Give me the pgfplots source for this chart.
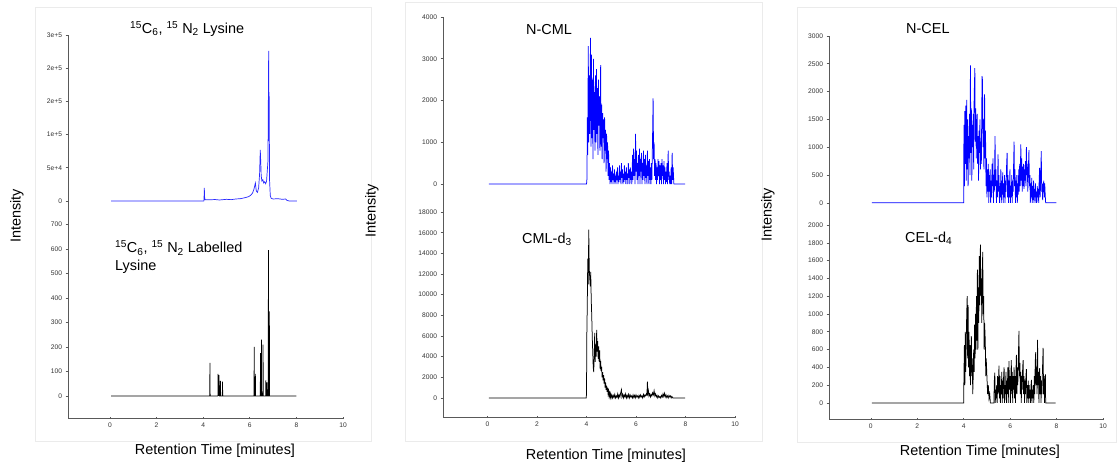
\documentclass[border=0pt]{standalone}
\usepackage{fontspec}
\setmainfont{Liberation Sans}
\usepackage{pgfplots}
\pgfplotsset{compat=1.18}
\pgfplotsset{
 chrom/.style={
  scale only axis, anchor=south west,
  xmin=-1.8, xmax=10,
  axis y line=left,
  axis line style={-, draw=black!65, line width=0.8bp},
  tick style={draw=black!65, line width=0.6bp},
  tick align=outside, major tick length=2.5bp,
  tick label style={font=\fontsize{6.7}{7}\selectfont, text=black!80},
  /pgf/number format/assume math mode=true,
  /pgf/number format/1000 sep={},
  scaled y ticks=false,
 },
 topax/.style={chrom, axis x line=none},
 botax/.style={chrom, axis x line=bottom, xtick={0,2,4,6,8,10},
   x axis line style={-}, y axis line style={-}},
}
\newcommand{\bigtxt}{\fontsize{14.5}{17}\selectfont}
\begin{document}
\begin{tikzpicture}[x=1bp,y=1bp]
\path[fill=white] (0,0) rectangle (1117,467);
\draw[black!8, line width=0.6bp] (35,26) rectangle (371,460);
\draw[black!8, line width=0.6bp] (405,26) rectangle (762,465);
\draw[black!8, line width=0.6bp] (797,25) rectangle (1116.5,460);

% ---------------- Panel 1 upper: Lysine
\begin{axis}[topax, at={(68bp,255bp)}, width=275bp, height=177bp,
  ymin=-16570, ymax=250000,
  ytick={0,50000,100000,150000,200000,250000},
  yticklabels={0,5e+4,1e+5,2e+5,2e+5,3e+5}]
\addplot[blue!85!white, line width=0.7bp] table {
x y
0.05 0
4.03 0
4.04 8000
4.05 19600
4.06 6000
4.08 2000
4.30 1800
4.50 2200
4.70 1500
5.00 2500
5.20 2000
5.40 3000
5.60 3500
5.80 5000
5.95 6500
6.05 9000
6.12 12000
6.18 18000
6.24 27000
6.28 15000
6.33 13000
6.38 20000
6.42 40000
6.45 77000
6.47 60000
6.49 38000
6.52 30000
6.56 32000
6.60 27000
6.64 29000
6.68 26000
6.72 30000
6.75 45000
6.78 60000
6.81 226000
6.82 90000
6.83 164000
6.85 30000
6.88 8000
6.92 4000
7.00 3000
7.20 3500
7.40 2500
7.54 3000
7.60 800
7.70 0
8.02 0
};
\end{axis}

% ---------------- Panel 1 lower: Labelled Lysine
\begin{axis}[botax, at={(68bp,49bp)}, width=275bp, height=206bp,
  ymin=-90, ymax=751, ytick={0,100,...,700}]
\addplot[black, line width=0.7bp] table {
x y
0.05 0
4.28 0
4.29 135
4.30 0
4.63 0
4.64 90
4.66 0
4.68 85
4.70 0
4.73 0
4.74 62
4.75 0
4.82 0
4.83 58
4.84 0
6.18 0
6.19 200
6.20 0
6.23 0
6.24 90
6.25 0
6.45 0
6.46 175
6.47 0
6.49 0
6.50 230
6.51 0
6.56 0
6.57 210
6.58 0
6.68 0
6.69 65
6.70 0
6.73 0
6.74 55
6.75 0
6.79 0
6.80 595
6.81 0
6.83 0
6.84 345
6.85 0
8.00 0
};
\end{axis}

% ---------------- Panel 2 upper: N-CML
\begin{axis}[topax, at={(443bp,267bp)}, width=292bp, height=183bp,
  ymin=-380, ymax=4000, ytick={0,1000,...,4000}]
\addplot[blue, line width=0.75bp] table {
x y
0.05 0
4.00 0
4.02 150
4.03 1600
4.05 700
4.07 3300
4.09 1000
4.11 2600
4.13 1200
4.16 3500
4.18 900
4.20 3100
4.22 1100
4.24 2500
4.26 600
4.28 3000
4.30 1300
4.32 2200
4.34 800
4.36 2600
4.38 1000
4.40 2750
4.42 1200
4.44 2300
4.46 700
4.48 2500
4.50 1400
4.52 2100
4.54 800
4.57 2850
4.59 900
4.61 1900
4.63 600
4.65 1700
4.67 1100
4.69 1550
4.71 500
4.73 1600
4.75 800
4.77 1300
4.79 300
4.81 1200
4.83 600
4.85 1000
4.87 200
4.89 800
4.91 100
4.93 500
4.95 0
4.97 400
4.99 50
5.01 300
5.03 0
5.05 450
5.07 100
5.09 250
5.11 0
5.13 350
5.15 50
5.17 200
5.19 0
5.21 300
5.23 100
5.25 400
5.27 0
5.29 200
5.31 50
5.33 450
5.35 100
5.37 300
5.39 0
5.41 500
5.43 150
5.45 350
5.47 0
5.49 250
5.51 50
5.53 450
5.55 100
5.57 300
5.59 0
5.61 400
5.63 100
5.65 250
5.67 0
5.69 500
5.71 150
5.73 350
5.75 0
5.77 400
5.79 100
5.81 300
5.83 0
5.86 700
5.88 100
5.90 850
5.92 200
5.94 600
5.96 0
5.98 1200
6.00 300
6.02 800
6.04 100
6.06 500
6.08 0
6.10 700
6.12 200
6.14 850
6.16 0
6.18 600
6.20 300
6.22 750
6.24 0
6.26 500
6.28 100
6.30 800
6.32 200
6.34 600
6.36 0
6.38 700
6.40 150
6.42 450
6.44 0
6.46 800
6.48 200
6.50 550
6.52 0
6.54 600
6.56 100
6.58 400
6.60 0
6.62 500
6.64 100
6.67 1200
6.69 2050
6.71 600
6.73 1000
6.75 200
6.77 600
6.79 100
6.81 500
6.83 0
6.85 400
6.87 100
6.89 600
6.91 200
6.93 550
6.95 0
6.97 450
6.99 100
7.01 500
7.03 0
7.05 600
7.07 200
7.09 450
7.11 0
7.13 550
7.15 100
7.17 400
7.19 0
7.21 300
7.23 50
7.25 500
7.27 0
7.30 800
7.32 100
7.34 300
7.36 0
7.38 200
7.40 0
7.42 400
7.44 0
7.46 750
7.48 100
7.50 400
7.53 0
7.98 0
};
\end{axis}

% ---------------- Panel 2 lower: CML-d3
\begin{axis}[botax, at={(443bp,50bp)}, width=292bp, height=217bp,
  ymin=-1840, ymax=19170, ytick={0,2000,...,18000}]
\addplot[black, line width=0.75bp] table {
x y
0.05 0
3.99 0
4.00 700
4.01 5800
4.03 9000
4.05 13500
4.07 11000
4.09 16300
4.11 12500
4.13 11600
4.15 10800
4.17 12200
4.19 9500
4.21 8000
4.23 6000
4.25 4500
4.27 3000
4.29 2500
4.31 4000
4.33 6300
4.35 3500
4.37 5200
4.39 4000
4.41 6600
4.43 4500
4.45 5500
4.47 3800
4.49 5000
4.51 3500
4.53 4600
4.55 2800
4.57 3600
4.59 2600
4.61 3000
4.63 2000
4.65 2500
4.67 1700
4.69 2200
4.71 1400
4.73 1900
4.75 1000
4.77 1500
4.79 800
4.81 1200
4.83 600
4.85 1000
4.87 400
4.89 700
4.91 200
4.93 500
4.95 100
4.97 400
4.99 0
5.02 300
5.05 0
5.08 250
5.11 50
5.14 350
5.17 0
5.20 200
5.23 50
5.26 400
5.29 0
5.32 300
5.35 100
5.38 500
5.41 800
5.43 100
5.46 350
5.49 0
5.52 300
5.55 100
5.58 400
5.61 0
5.64 250
5.67 50
5.70 350
5.73 0
5.76 300
5.79 100
5.82 200
5.85 0
5.88 300
5.91 50
5.94 250
5.97 0
6.00 300
6.03 100
6.06 200
6.09 0
6.12 250
6.15 50
6.18 300
6.21 100
6.24 200
6.27 0
6.30 350
6.33 100
6.36 300
6.39 200
6.42 400
6.44 300
6.46 1580
6.48 500
6.50 700
6.52 200
6.55 400
6.58 100
6.61 350
6.64 200
6.67 500
6.70 300
6.73 700
6.76 200
6.79 400
6.82 100
6.85 250
6.88 0
6.91 200
6.94 50
6.97 150
7.00 0
7.03 250
7.06 100
7.09 400
7.12 150
7.15 450
7.18 100
7.21 300
7.24 50
7.27 200
7.30 0
7.33 250
7.36 100
7.39 200
7.42 0
7.45 150
7.49 0
7.98 0
};
\end{axis}

% ---------------- Panel 3 upper: N-CEL
\begin{axis}[topax, at={(829bp,253bp)}, width=274bp, height=178bp,
  ymin=-200, ymax=3000, ytick={0,500,...,3000}]
\addplot[blue, line width=0.75bp] table {
x y
0.05 0
4.00 0
4.01 1400
4.03 300
4.05 1650
4.07 700
4.09 1750
4.11 400
4.13 1850
4.15 600
4.17 1500
4.19 300
4.21 1200
4.23 800
4.25 1600
4.27 500
4.29 2470
4.31 900
4.33 1700
4.35 400
4.37 1400
4.39 1000
4.41 1600
4.43 600
4.45 1900
4.48 2420
4.50 1100
4.52 1700
4.54 800
4.56 1400
4.58 1600
4.60 700
4.62 1200
4.64 400
4.66 1300
4.68 900
4.70 1500
4.72 600
4.74 1100
4.76 700
4.79 2280
4.81 2200
4.83 1000
4.85 1500
4.87 600
4.90 1950
4.92 800
4.94 1300
4.96 300
4.98 800
5.00 100
5.02 600
5.04 200
5.06 700
5.08 0
5.10 500
5.12 200
5.14 600
5.16 0
5.18 400
5.20 100
5.22 700
5.24 300
5.26 800
5.28 0
5.30 500
5.32 200
5.35 1200
5.37 300
5.39 600
5.41 0
5.43 400
5.45 100
5.48 870
5.50 200
5.52 500
5.54 0
5.56 300
5.58 100
5.60 600
5.62 0
5.64 400
5.66 150
5.68 550
5.70 0
5.72 350
5.74 100
5.76 500
5.78 0
5.80 400
5.82 200
5.85 700
5.87 900
5.89 100
5.91 500
5.93 0
5.95 400
5.97 100
5.99 600
6.01 0
6.03 300
6.05 100
6.07 500
6.09 0
6.11 400
6.13 200
6.15 700
6.17 1100
6.19 300
6.21 600
6.23 0
6.25 400
6.27 100
6.29 500
6.31 0
6.33 350
6.35 150
6.37 600
6.39 200
6.41 700
6.43 300
6.46 1050
6.48 400
6.50 800
6.52 200
6.54 650
6.56 300
6.58 700
6.60 250
6.62 600
6.64 400
6.66 750
6.68 300
6.70 1000
6.72 500
6.74 700
6.76 200
6.78 550
6.81 950
6.83 300
6.85 500
6.87 0
6.89 350
6.91 100
6.93 450
6.95 0
6.97 300
6.99 50
7.01 400
7.03 0
7.05 250
7.07 100
7.09 350
7.11 0
7.13 200
7.15 0
7.17 300
7.19 100
7.21 250
7.23 0
7.25 400
7.27 630
7.29 100
7.31 300
7.34 930
7.36 200
7.38 350
7.40 50
7.42 300
7.45 400
7.47 100
7.49 350
7.51 150
7.53 0
7.99 0
};
\end{axis}

% ---------------- Panel 3 lower: CEL-d4
\begin{axis}[botax, at={(829bp,48bp)}, width=274bp, height=205bp,
  ymin=-181, ymax=2125, ytick={0,200,...,2000}]
\addplot[black, line width=0.75bp] table {
x y
0.05 0
4.00 0
4.01 300
4.03 650
4.05 200
4.07 800
4.09 350
4.11 700
4.13 1000
4.15 1200
4.17 500
4.19 1100
4.21 400
4.23 800
4.25 300
4.27 650
4.29 200
4.31 550
4.33 750
4.35 300
4.37 500
4.39 100
4.41 300
4.43 600
4.45 350
4.47 880
4.49 500
4.51 1000
4.53 600
4.55 1200
4.57 700
4.59 1500
4.61 600
4.63 1300
4.65 900
4.67 1650
4.69 1100
4.72 1780
4.74 1200
4.76 1400
4.78 900
4.80 1450
4.82 1700
4.84 1000
4.86 1200
4.88 600
4.90 900
4.93 700
4.95 300
4.97 500
5.00 300
5.03 100
5.06 200
5.09 50
5.12 100
5.15 0
5.30 0
5.32 250
5.34 340
5.36 0
5.38 150
5.40 50
5.42 200
5.44 0
5.46 300
5.48 100
5.50 250
5.52 420
5.54 50
5.56 300
5.58 0
5.60 200
5.62 100
5.64 350
5.66 0
5.68 250
5.70 50
5.72 300
5.74 400
5.76 0
5.78 200
5.80 100
5.82 350
5.84 0
5.86 250
5.88 100
5.90 400
5.92 0
5.95 470
5.97 150
5.99 300
6.01 0
6.03 250
6.05 480
6.07 100
6.09 350
6.11 0
6.13 300
6.15 150
6.17 400
6.19 50
6.21 300
6.23 0
6.25 350
6.27 540
6.29 100
6.31 400
6.33 200
6.35 450
6.38 810
6.40 300
6.42 450
6.44 100
6.46 350
6.48 0
6.50 300
6.52 150
6.54 400
6.56 480
6.58 100
6.60 300
6.62 0
6.64 250
6.66 100
6.68 300
6.70 380
6.72 0
6.74 200
6.76 50
6.78 250
6.80 0
6.82 200
6.84 50
6.86 150
6.88 0
6.90 200
6.92 260
6.94 0
6.96 150
6.98 50
7.00 200
7.02 0
7.04 300
7.06 100
7.08 450
7.10 570
7.12 200
7.14 400
7.16 100
7.18 710
7.20 200
7.22 350
7.24 0
7.27 390
7.29 100
7.31 300
7.33 0
7.35 250
7.37 100
7.39 350
7.42 620
7.44 100
7.46 300
7.48 0
7.50 250
7.52 320
7.53 0
7.96 0
};
\end{axis}

% ---------------- Texts
\node[rotate=90, font=\bigtxt] at (17,251) {Intensity};
\node[rotate=90, font=\bigtxt] at (372,256) {Intensity};
\node[rotate=90, font=\bigtxt] at (768,252) {Intensity};
\node[font=\bigtxt] at (215,16) {Retention Time [minutes]};
\node[font=\bigtxt] at (606,11) {Retention Time [minutes]};
\node[font=\bigtxt] at (980,15) {Retention Time [minutes]};
\node[font=\bigtxt, anchor=west, inner sep=0pt] at (130,438) {\textsuperscript{15}C\textsubscript{6}, \textsuperscript{15} N\textsubscript{2} Lysine};
\node[font=\bigtxt, anchor=west, inner sep=0pt] at (115,219) {\textsuperscript{15}C\textsubscript{6}, \textsuperscript{15} N\textsubscript{2} Labelled};
\node[font=\bigtxt, anchor=west, inner sep=0pt] at (115,200) {Lysine};
\node[font=\bigtxt, anchor=west, inner sep=0pt] at (526,437) {N-CML};
\node[font=\bigtxt, anchor=west, inner sep=0pt] at (522,228) {CML-d\textsubscript{3}};
\node[font=\bigtxt, anchor=west, inner sep=0pt] at (906,438) {N-CEL};
\node[font=\bigtxt, anchor=west, inner sep=0pt] at (905,229) {CEL-d\textsubscript{4}};
\end{tikzpicture}
\end{document}
